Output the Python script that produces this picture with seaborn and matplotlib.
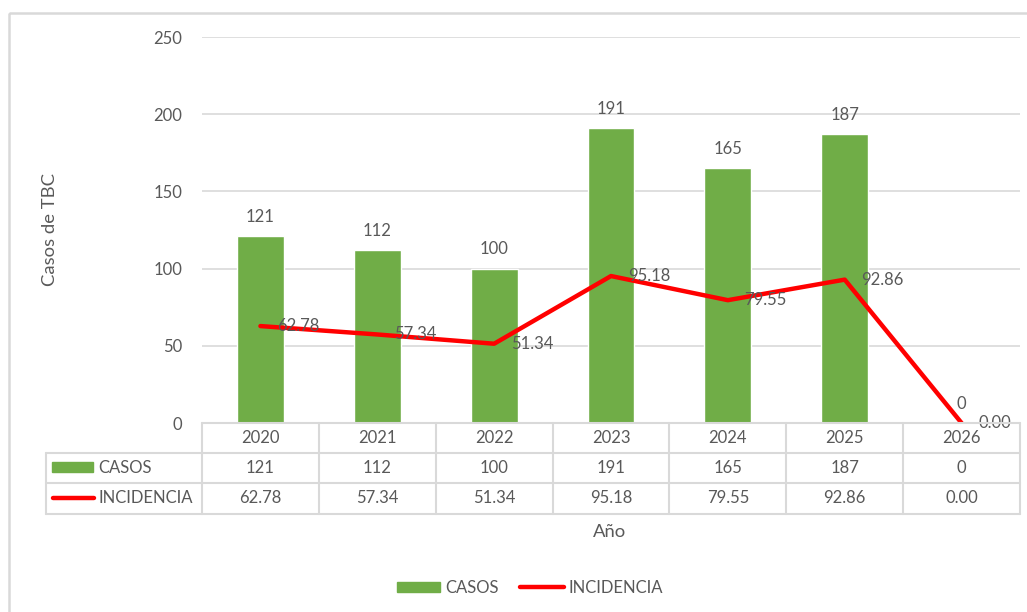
import matplotlib
matplotlib.use("Agg")
import matplotlib.pyplot as plt
import matplotlib.transforms as mtransforms
from matplotlib.lines import Line2D
from matplotlib.patches import Patch, Rectangle
import seaborn as sns
import pandas as pd

# ---- data ----
years = ["2020", "2021", "2022", "2023", "2024", "2025", "2026"]
casos = [121, 112, 100, 191, 165, 187, 0]
incidencia = [62.78, 57.34, 51.34, 95.18, 79.55, 92.86, 0.00]
series_names = ["CASOS", "INCIDENCIA"]
y_label = "Casos de TBC"
x_label = "Año"

GREEN = "#70ad47"
RED = "#ff0000"
TXT = "#595959"
GRID = "#d9d9d9"
FS = 12
FS_TITLE = 13.3

sns.set_theme(style="white")
plt.rcParams["font.family"] = ["Lato", "DejaVu Sans"]

W, H = 1027, 612
fig = plt.figure(figsize=(W / 100, H / 100), dpi=100)
# pixel transform (x from left, y from top)
px = mtransforms.Affine2D().scale(1 / W, -1 / H).translate(0, 1) + fig.transFigure

ax_l, ax_r, ax_t, ax_b = 202, 1020, 37, 423
ax = fig.add_axes([ax_l / W, (H - ax_b) / H, (ax_r - ax_l) / W, (ax_b - ax_t) / H])

df = pd.DataFrame({"year": years, "casos": casos, "incidencia": incidencia})
sns.barplot(data=df, x="year", y="casos", color=GREEN, width=0.4, ax=ax,
            saturation=1, zorder=3)
ax.plot(df["year"], df["incidencia"], color=RED, lw=3.2, zorder=4,
        solid_capstyle="round", solid_joinstyle="round")

ax.set_ylim(0, 250)
ax.set_xlim(-0.5, len(years) - 0.5)
ax.set_yticks(range(0, 251, 50))
ax.yaxis.grid(True, color=GRID, lw=1.2, zorder=0)
ax.set_axisbelow(True)
for s in ax.spines.values():
    s.set_visible(False)
ax.tick_params(axis="y", length=0, pad=14, labelsize=FS, labelcolor=TXT)
ax.set_xticks([])
ax.set_xlabel("")
ax.set_ylabel("")

# bar labels
ax.bar_label(ax.containers[0], labels=[str(v) for v in casos], padding=8,
             fontsize=FS, color=TXT)
# line labels (right of points)
for i, v in enumerate(incidencia):
    ax.annotate(f"{v:.2f}", (i, v), xytext=(12, 0), textcoords="offset points",
                ha="left", va="center", fontsize=FS, color=TXT, zorder=5)

# ---- data table ----
col_w = (ax_r - ax_l) / len(years)
row_y = [423, 453, 483, 514]
tbl_left = 46
lk = dict(color=GRID, lw=1.5, transform=px, clip_on=False)
fig.add_artist(Line2D([ax_l, ax_r], [row_y[0]] * 2, **lk))
for yy in row_y[1:]:
    fig.add_artist(Line2D([tbl_left, ax_r], [yy] * 2, **lk))
for k in range(len(years) + 1):
    x = ax_l + k * col_w
    fig.add_artist(Line2D([x, x], [row_y[0], row_y[-1]], **lk))
fig.add_artist(Line2D([tbl_left, tbl_left], [row_y[1], row_y[-1]], **lk))

for i, yv in enumerate(years):
    cx = ax_l + (i + 0.5) * col_w
    fig.text(cx, 438, yv, transform=px, ha="center", va="center", fontsize=FS, color=TXT)
    fig.text(cx, 468, str(casos[i]), transform=px, ha="center", va="center", fontsize=FS, color=TXT)
    fig.text(cx, 498, f"{incidencia[i]:.2f}", transform=px, ha="center", va="center", fontsize=FS, color=TXT)

fig.add_artist(Rectangle((52, 462), 41, 10, transform=px, color=GREEN, clip_on=False))
fig.add_artist(Line2D([53, 94], [498, 498], transform=px, color=RED, lw=3.2,
                      solid_capstyle="round", clip_on=False))
fig.text(98, 468, series_names[0], transform=px, ha="left", va="center", fontsize=FS, color=TXT)
fig.text(98, 498, series_names[1], transform=px, ha="left", va="center", fontsize=FS, color=TXT)

# axis titles
fig.text(50, 230, y_label, transform=px, rotation=90, ha="center", va="center",
         fontsize=FS_TITLE, color=TXT)
fig.text(610, 532, x_label, transform=px, ha="center", va="center", fontsize=FS_TITLE, color=TXT)

# bottom legend
handles = [Patch(color=GREEN, label=series_names[0]),
           Line2D([0], [0], color=RED, lw=3.2, label=series_names[1])]
fig.legend(handles=handles, loc="center", bbox_to_anchor=(530 / W, 1 - 588 / H),
           ncol=2, frameon=False, fontsize=FS, labelcolor=TXT, handlelength=2.6,
           handleheight=0.6, handletextpad=0.3, columnspacing=1.3)

# outer border
fig.add_artist(Rectangle((8.5, 12.5), 1100, 700, transform=px, fill=False,
                         edgecolor=GRID, lw=1.8, clip_on=False))

fig.savefig("out.png", dpi=100)
